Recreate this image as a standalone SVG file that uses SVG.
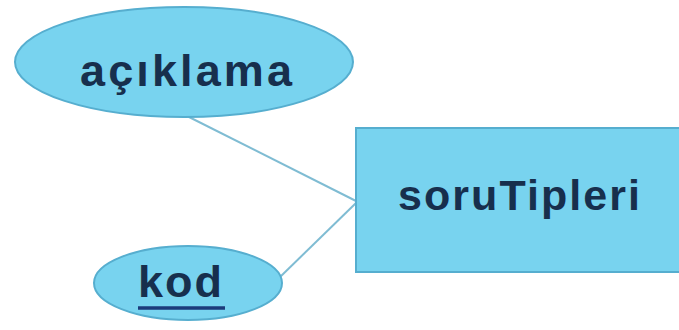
<svg xmlns="http://www.w3.org/2000/svg" width="679" height="330" viewBox="0 0 679 330">
  <style>
    .shape { fill: #78d3ef; stroke: #56aecf; stroke-width: 2; }
    .label { font-family: "Liberation Sans", Arial, sans-serif; font-weight: bold; fill: #172f4d; }
    .link { stroke: #7fbcd3; stroke-width: 2; fill: none; }
  </style>
  <rect width="679" height="330" fill="#ffffff"/>
  <g id="connectors">
    <line class="link" x1="185" y1="115" x2="356" y2="201"/>
    <line class="link" x1="279" y1="278" x2="356" y2="203"/>
  </g>
  <g id="aciklama">
    <ellipse class="shape" cx="184" cy="62" rx="169" ry="55"/>
    <text class="label" x="80" y="86" font-size="45" textLength="212" lengthAdjust="spacing">açıklama</text>
  </g>
  <g id="soruTipleri">
    <rect class="shape" x="356" y="128" width="324" height="144"/>
    <text class="label" x="398" y="210" font-size="43" textLength="242" lengthAdjust="spacing">soruTipleri</text>
  </g>
  <g id="kod">
    <ellipse class="shape" cx="188" cy="283" rx="94" ry="37"/>
    <text class="label" x="138" y="297" font-size="45" textLength="84" lengthAdjust="spacing">kod</text>
    <line x1="138" y1="308" x2="225" y2="308" stroke="#1b3a7a" stroke-width="3.5"/>
  </g>
</svg>
